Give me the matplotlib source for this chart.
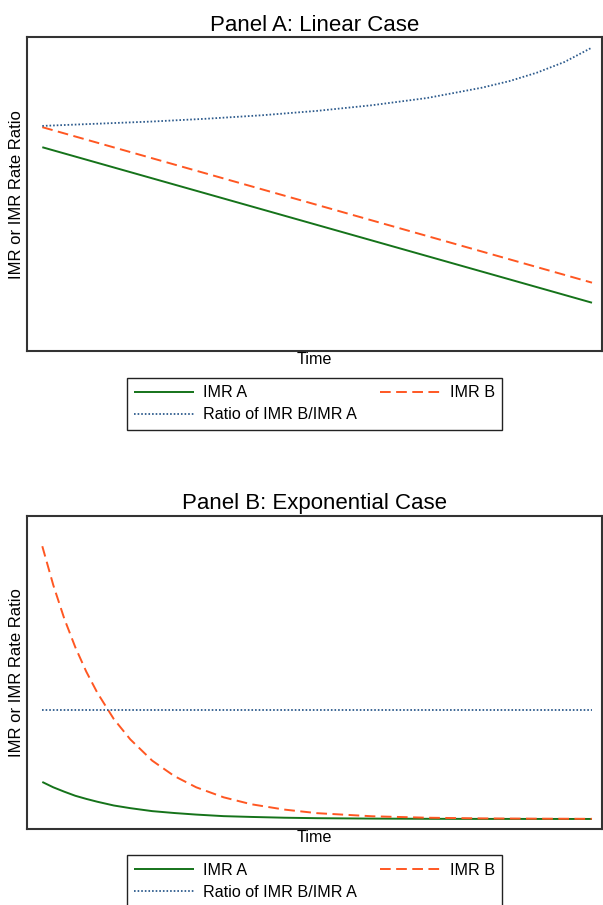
import matplotlib
matplotlib.use("Agg")
import matplotlib.pyplot as plt

plt.rcParams['font.family'] = ['Liberation Sans', 'DejaVu Sans']

# ---- Panel A data (linear case) ----
a_time = [0.0, 1.0]
a_imr_a = [65.0, 15.4]
a_imr_b = [71.4, 21.8]
a_ratio_time = [0.0, 0.1, 0.2, 0.3, 0.4, 0.5, 0.6, 0.7, 0.8, 0.85, 0.9, 0.95, 1.0]
a_ratio = [71.8, 72.5, 73.2, 74.1, 75.2, 76.6, 78.4, 80.7, 84.0, 86.1, 88.8, 92.2, 96.8]

# ---- Panel B data (exponential case) ----
b_time = [0.0, 0.02, 0.04, 0.06, 0.08, 0.10, 0.13, 0.16, 0.20, 0.24, 0.28,
          0.33, 0.38, 0.44, 0.50, 0.60, 0.70, 0.80, 0.90, 1.0]
b_imr_b = [90.2, 77.8, 67.1, 58.0, 50.2, 43.5, 35.1, 28.6, 21.8, 16.9, 13.3,
           10.1, 7.9, 6.2, 5.05, 4.06, 3.6, 3.38, 3.29, 3.24]
b_imr_a = [15.0, 13.3, 11.9, 10.6, 9.6, 8.7, 7.5, 6.65, 5.7, 5.1, 4.6,
           4.1, 3.85, 3.6, 3.45, 3.32, 3.25, 3.22, 3.21, 3.2]
b_ratio_time = [0.0, 1.0]
b_ratio = [37.9, 37.9]

titles = ["Panel A: Linear Case", "Panel B: Exponential Case"]
labels = ["IMR A", "IMR B", "Ratio of IMR B/IMR A"]

GREEN = "#15731a"
ORANGE = "#ff5722"
BLUE = "#2c5a8c"

fig = plt.figure(figsize=(6.03, 9.05), dpi=100)
W, H = 603.0, 905.0
ax_a = fig.add_axes([27 / W, 1 - 351 / H, 575 / W, 313.5 / H])
ax_b = fig.add_axes([27 / W, 1 - 829 / H, 575 / W, 313.5 / H])

panels = [
    (ax_a, a_time, a_imr_a, a_imr_b, a_ratio_time, a_ratio, -0.086),
    (ax_b, b_time, b_imr_a, b_imr_b, b_ratio_time, b_ratio, -0.084),
]

for (ax, t, ia, ib, rt, r, legy), title in zip(panels, titles):
    la, = ax.plot(t, ia, color=GREEN, lw=1.4, solid_capstyle='butt')
    lb, = ax.plot(t, ib, color=ORANGE, lw=1.4, dashes=(5.5, 2.8))
    lr, = ax.plot(rt, r, color=BLUE, lw=1.3, linestyle=(0, (0.9, 1.1)))
    ax.set_xlim(-15.3 / 550, 1 + 10 / 550)
    ax.set_ylim(0, 100)
    ax.set_xticks([])
    ax.set_yticks([])
    for s in ax.spines.values():
        s.set_color("#333333")
        s.set_linewidth(1.5)
    ax.set_title(title, fontsize=16, pad=4.6)
    ax.set_xlabel("Time", fontsize=11.6, labelpad=0.8)
    ax.set_ylabel("IMR or IMR Rate Ratio", fontsize=12, labelpad=2.5)
    leg = ax.legend([la, lr, lb], [labels[0], labels[2], labels[1]], ncol=2,
                    loc='upper center', bbox_to_anchor=(0.5, legy),
                    borderaxespad=0, fontsize=11.6, handlelength=3.73,
                    handletextpad=0.56, columnspacing=1.43,
                    fancybox=False, framealpha=1,
                    edgecolor='#222222', borderpad=0.45, labelspacing=0.45)
    leg.get_frame().set_linewidth(1.0)

fig.savefig("out.png", dpi=100)
